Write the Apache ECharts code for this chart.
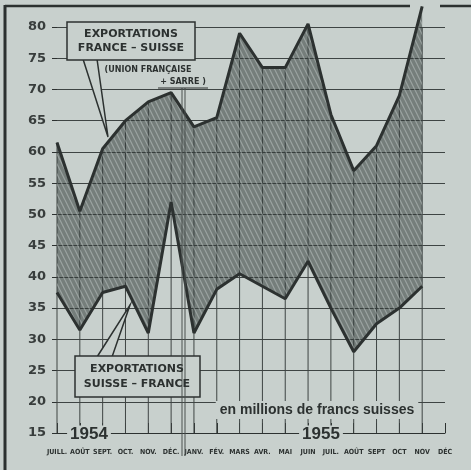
<!DOCTYPE html>
<html>
<head>
<meta charset="utf-8">
<script src="https://cdn.jsdelivr.net/npm/echarts@6/dist/echarts.min.js"></script>
<style>
  html, body { margin: 0; padding: 0; background: #c8d0cd; }
  #chart { width: 471px; height: 470px; }
</style>
</head>
<body>
<div id="chart"></div>
<script>
const months = ["JUILL.", "AOÛT", "SEPT.", "OCT.", "NOV.", "DÉC.", "JANV.", "FÉV.", "MARS", "AVR.", "MAI",
  "JUIN", "JUIL.", "AOÛT", "SEPT", "OCT", "NOV", "DÉC"];
// Exportations France -> Suisse (millions de francs suisses)
const franceSuisse = [61.5, 50.5, 60.5, 65, 68, 69.5, 64, 65.5, 79, 73.5, 73.5, 80.5, 66, 57, 61, 69, 83.3];
// Exportations Suisse -> France
const suisseFrance = [37.5, 31.5, 37.5, 38.5, 31, 52, 31, 38, 40.5, 38.5, 36.5, 42.5, 35, 28, 32.5, 35, 38.5];
const yTicks = { min: 15, max: 80, step: 5 };

const paper = "#c8d0cd";
const ink = "#2c3130";
const gap = franceSuisse.map((v, i) => +(v - suisseFrance[i]).toFixed(2));

// hatched fill
function hatch() {
  const c = document.createElement("canvas");
  c.width = 5; c.height = 10;
  const g = c.getContext("2d");
  g.fillStyle = "rgba(50,58,57,0.55)";
  g.fillRect(0, 0, 5, 10);
  g.strokeStyle = "rgba(200,208,206,0.45)";
  g.lineWidth = 1.2;
  g.beginPath();
  for (let k = -10; k <= 10; k += 5) { g.moveTo(k, 0); g.lineTo(k + 5, 10); }
  g.stroke();
  return c;
}

const boldFont = "'DejaVu Sans', sans-serif";
const txt = (x, y, s, size, extra) => ({
  type: "text", x: x, y: y, z: 20,
  style: Object.assign({ text: s, fill: ink, font: "bold " + size + "px " + boldFont,
    textAlign: "center", textVerticalAlign: "middle" }, extra || {})
});

const options = {
  backgroundColor: paper,
  animation: false,
  grid: { left: 57, right: 26, top: 27, bottom: 37 },
  xAxis: {
    type: "category",
    data: months,
    boundaryGap: false,
    axisLine: { lineStyle: { color: ink, width: 1 } },
    axisTick: { inside: true, length: 10, lineStyle: { color: ink } },
    axisLabel: {
      interval: 0, margin: 16, color: ink, fontSize: 7, fontWeight: "bold",
      fontFamily: "'Liberation Sans Narrow', 'DejaVu Sans Condensed', sans-serif"
    },
    splitLine: { show: false }
  },
  yAxis: {
    type: "value",
    min: yTicks.min, max: yTicks.max, interval: yTicks.step,
    axisLine: { show: false },
    axisTick: { show: true, length: 5, lineStyle: { color: ink } },
    axisLabel: { margin: 11, color: "#383d3c", fontSize: 13, fontWeight: "bold", fontFamily: boldFont },
    splitLine: { lineStyle: { color: "#3e4443", width: 1 } }
  },
  series: [
    {
      name: "stems", type: "bar", data: franceSuisse, barWidth: 1, clip: true, silent: true,
      itemStyle: { color: "#3e4443" }, z: 1
    },
    {
      name: "Suisse - France", type: "line", data: suisseFrance, stack: "x", symbol: "none",
      lineStyle: { color: ink, width: 3 }, z: 4, clip: false
    },
    {
      name: "France - Suisse", type: "line", data: gap, stack: "x", symbol: "none",
      lineStyle: { color: ink, width: 3 }, clip: false, z: 3,
      areaStyle: { color: { image: hatch(), repeat: "repeat" }, opacity: 1 }
    }
  ],
  graphic: [
    // frame
    { type: "line", z: 20, shape: { x1: 5, y1: 5, x2: 5, y2: 470 }, style: { stroke: ink, lineWidth: 3 } },
    { type: "line", z: 20, shape: { x1: 5, y1: 6, x2: 410, y2: 6 }, style: { stroke: ink, lineWidth: 2.5 } },
    { type: "line", z: 20, shape: { x1: 440, y1: 6, x2: 471, y2: 6 }, style: { stroke: ink, lineWidth: 2.5 } },
    // Sarre divider
    { type: "line", z: 20, shape: { x1: 182, y1: 88, x2: 182, y2: 456 }, style: { stroke: "#4a504f", lineWidth: 1 } },
    { type: "line", z: 20, shape: { x1: 185, y1: 88, x2: 185, y2: 456 }, style: { stroke: "#4a504f", lineWidth: 1 } },
    // box France-Suisse
    { type: "polyline", z: 19, shape: { points: [[83, 59], [108, 137], [97, 59]] },
      style: { stroke: ink, lineWidth: 1.5, fill: paper } },
    { type: "rect", z: 19, shape: { x: 67, y: 22, width: 128, height: 38 },
      style: { fill: paper, stroke: ink, lineWidth: 1.5 } },
    txt(131, 34, "EXPORTATIONS", 11),
    txt(131, 48, "FRANCE – SUISSE", 11),
    txt(148, 70, "(UNION FRANÇAISE", 8),
    txt(183, 82, "+ SARRE )", 8),
    { type: "line", z: 20, shape: { x1: 158, y1: 88, x2: 208, y2: 88 }, style: { stroke: ink, lineWidth: 1.2 } },
    // box Suisse-France
    { type: "polyline", z: 19, shape: { points: [[97, 357], [130, 305], [112, 357]] },
      style: { stroke: ink, lineWidth: 1.5, fill: paper } },
    { type: "rect", z: 19, shape: { x: 75, y: 356, width: 125, height: 41 },
      style: { fill: paper, stroke: ink, lineWidth: 1.5 } },
    txt(137, 369, "EXPORTATIONS", 11),
    txt(137, 384, "SUISSE – FRANCE", 11),
    // unit and years
    txt(317, 410, "en millions de francs suisses", 14,
      { font: "bold 14px 'Liberation Sans', sans-serif", backgroundColor: paper, padding: [2, 4] }),
    txt(89, 434, "1954", 17,
      { font: "bold 17px 'Liberation Sans', sans-serif", backgroundColor: paper, padding: [0, 3] }),
    txt(321, 434, "1955", 17,
      { font: "bold 17px 'Liberation Sans', sans-serif", backgroundColor: paper, padding: [0, 3] })
  ]
};

document.addEventListener("DOMContentLoaded", function () {
  const chart = echarts.init(document.getElementById("chart"));
  chart.setOption(options);
});
</script>
</body>
</html>
